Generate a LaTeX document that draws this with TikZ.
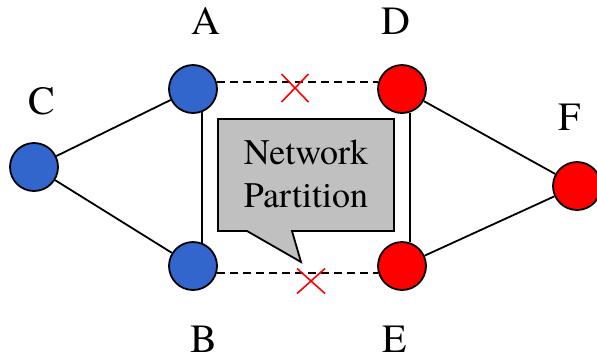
\documentclass[tikz,border=0pt]{standalone}
\usepackage{fontspec}
\setmainfont{TeX Gyre Termes}
\usetikzlibrary{calc}
\definecolor{nodeblue}{HTML}{3366CC}
\definecolor{nodered}{HTML}{FF0000}
\definecolor{calloutgray}{HTML}{C0C0C0}
\begin{document}
\begin{tikzpicture}[x=1pt,y=-1pt,
  vertex/.style={circle,draw=black,line width=1.8pt,minimum size=48pt,inner sep=0pt},
  bluevertex/.style={vertex,fill=nodeblue},
  redvertex/.style={vertex,fill=nodered},
  lbl/.style={inner sep=0pt,font=\rmfamily\fontsize{40}{48}\selectfont},
  link/.style={line width=1.8pt,black},
  cutlink/.style={line width=1.6pt,black,dash pattern=on 8pt off 5pt},
  crossmark/.style={line width=1.6pt,nodered},
  callout/.style={draw=black,line width=1.8pt,fill=calloutgray,line join=miter}
]
\useasboundingbox (0,0) rectangle (597,360);

% callout
\draw[callout] (218,119) -- (394,119) -- (394,231) -- (292,231) -- (301,262) -- (247,231) -- (218,231) -- cycle;
\node[inner sep=0pt,align=center,font=\rmfamily\fontsize{36}{43}\selectfont] (np) at (306,174) {Network\\Partition};

% vertices
\node[bluevertex] (A) at (193,89) {};
\node[bluevertex] (B) at (193,266) {};
\node[bluevertex] (C) at (34,167) {};
\node[redvertex] (D) at (402,89) {};
\node[redvertex] (E) at (402,266) {};
\node[redvertex] (F) at (577,186) {};

% labels
\node[lbl] (lA) at (206,21) {A};
\node[lbl] (lB) at (204,339) {B};
\node[lbl] (lC) at (42,101) {C};
\node[lbl] (lD) at (396,21) {D};
\node[lbl] (lE) at (395,339) {E};
\node[lbl] (lF) at (570,117) {F};

% links
\draw[link] (C) -- (A);
\draw[link] (C) -- (B);
\draw[link] (A.-68) -- (B.68);
\draw[link] (D.-71) -- (E.71);
\draw[link] (D) -- (F);
\draw[link] (E) -- (F);
\draw[cutlink] (A.17) -- (D.163);
\draw[cutlink] (B.-17) -- (E.-163);

% crosses
\coordinate (x1) at (295,88);
\coordinate (x2) at (311,281);
\draw[crossmark] ($(x1)+(-13.5,-14)$) -- ($(x1)+(13.5,14)$);
\draw[crossmark] ($(x1)+(-13.5,14)$) -- ($(x1)+(13.5,-14)$);
\draw[crossmark] ($(x2)+(-14,-12.5)$) -- ($(x2)+(14,12.5)$);
\draw[crossmark] ($(x2)+(-14,12.5)$) -- ($(x2)+(14,-12.5)$);
\end{tikzpicture}
\end{document}
